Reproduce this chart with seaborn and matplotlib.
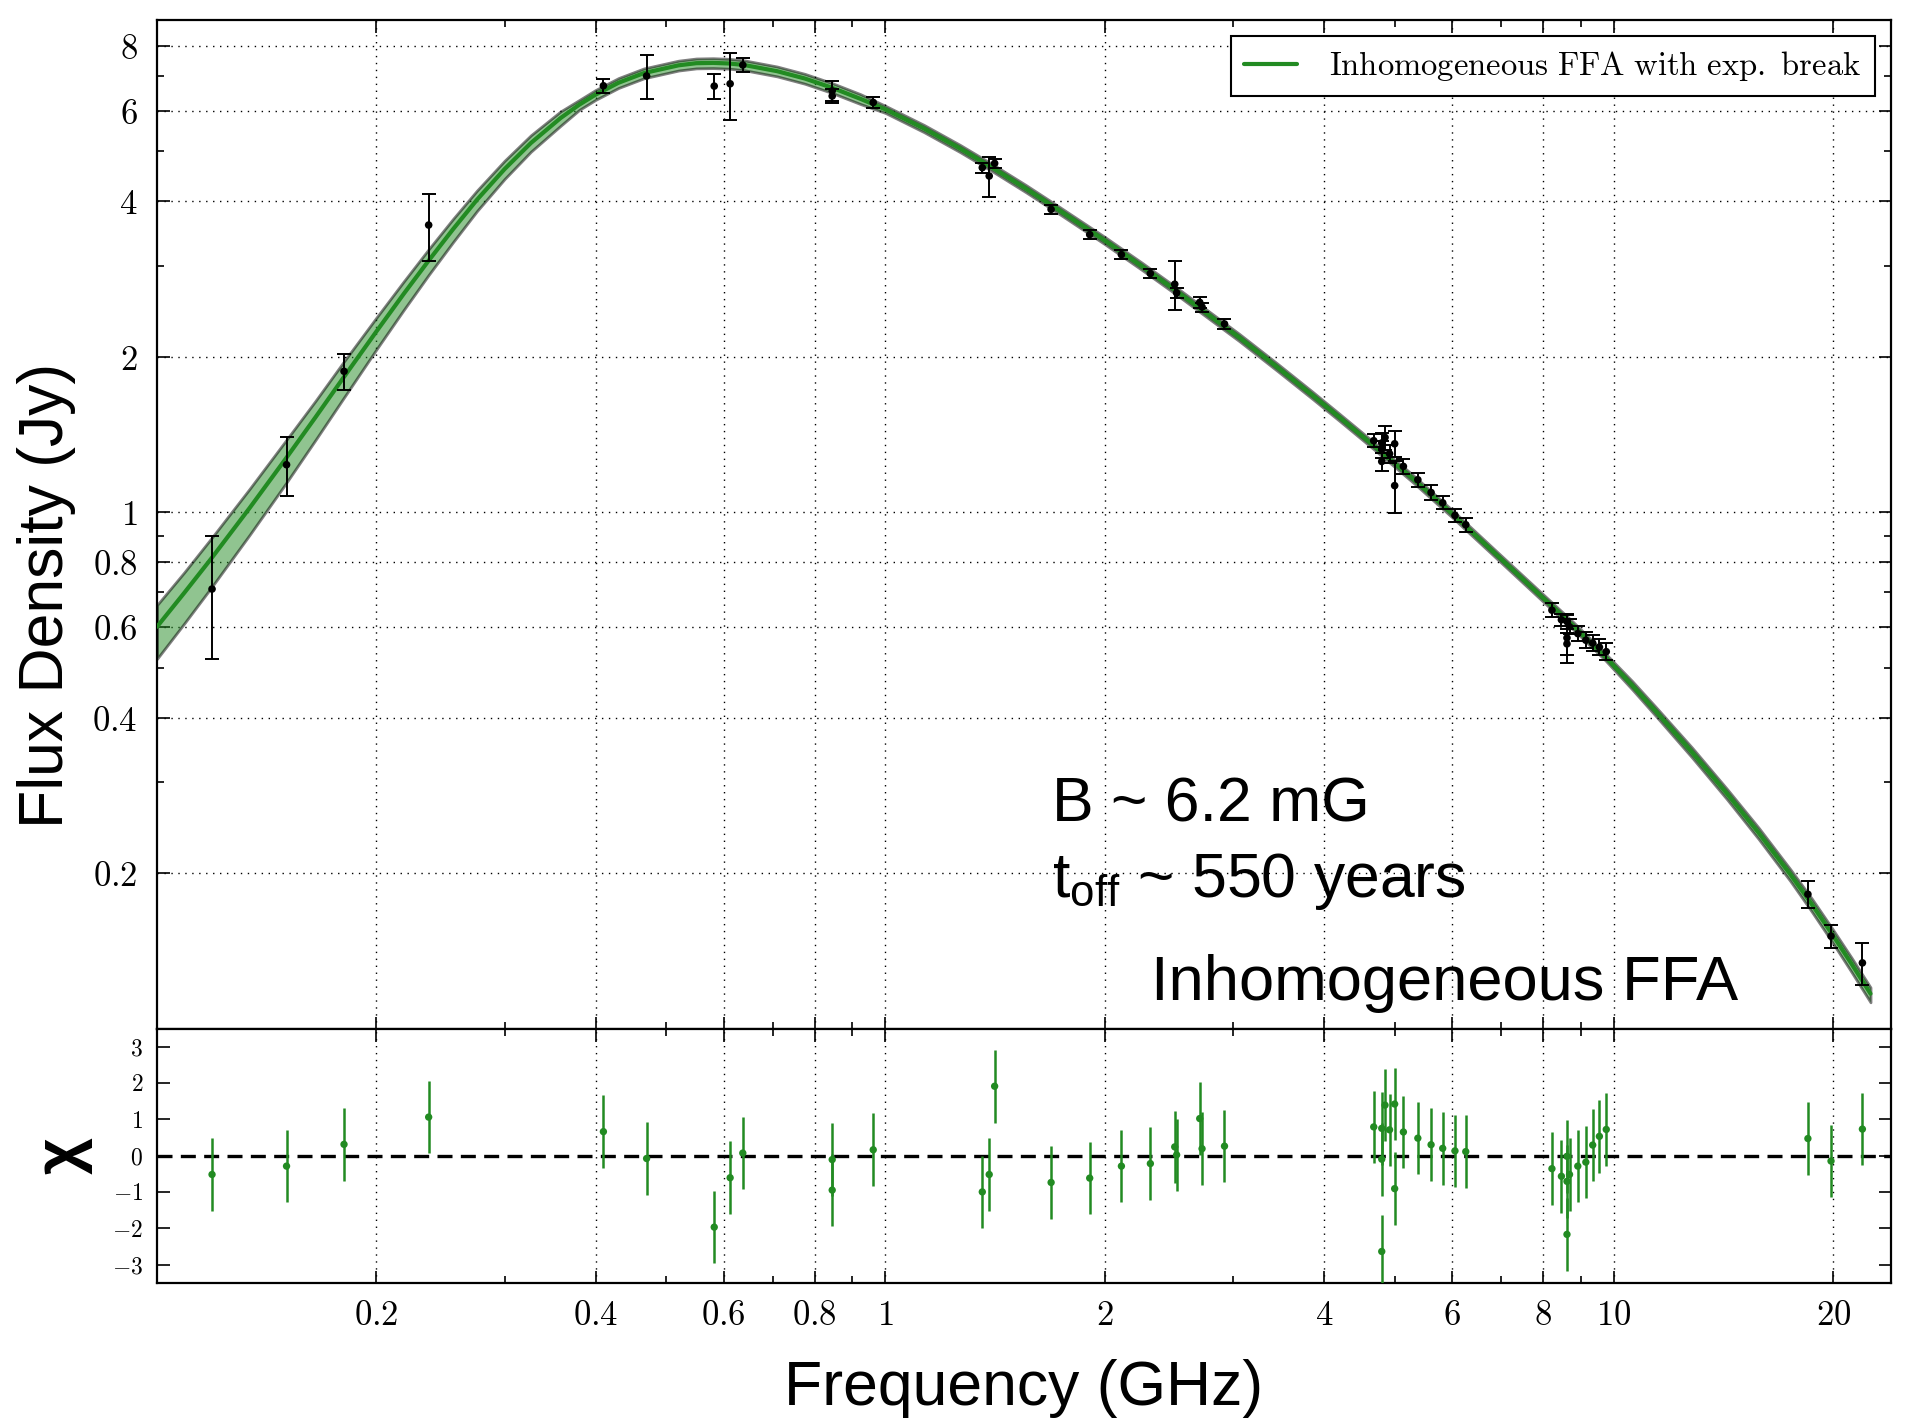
import numpy as np
import matplotlib
matplotlib.use("Agg")
import matplotlib.pyplot as plt
from matplotlib.ticker import FixedLocator, FuncFormatter, NullFormatter
import seaborn as sns

sns.set_style("ticks")
plt.rcParams['font.family'] = ['Liberation Sans', 'DejaVu Sans']
plt.rcParams['mathtext.fontset'] = 'cm'
plt.rcParams['mathtext.rm'] = 'Liberation Sans'
plt.rcParams['mathtext.it'] = 'Liberation Sans:italic'
plt.rcParams['mathtext.bf'] = 'Liberation Sans:bold'
for key in ['text.color', 'axes.labelcolor', 'xtick.color', 'ytick.color', 'axes.edgecolor']:
    plt.rcParams[key] = 'k'

# model curve and its band
curve_freq = [0.100, 0.109, 0.119, 0.134, 0.150, 0.165, 0.180, 0.200, 0.218, 0.236,
              0.255, 0.275, 0.300, 0.326, 0.358, 0.380, 0.400, 0.430, 0.466, 0.520,
              0.550, 0.580, 0.610, 0.640, 0.710, 0.775, 0.845, 0.924, 1.000, 1.130,
              1.266, 1.406, 1.560, 1.736, 2.000, 2.250, 2.508, 2.770, 3.060, 3.450,
              3.850, 4.200, 4.700, 5.300, 6.000, 6.900, 7.970, 8.800, 9.740, 10.60,
              11.43, 12.80, 14.30, 15.80, 17.47, 18.70, 19.90, 21.20, 22.50]
curve_flux = [0.600, 0.698, 0.817, 1.019, 1.266, 1.527, 1.817, 2.238, 2.646, 3.072,
              3.536, 4.031, 4.62, 5.19, 5.80, 6.16, 6.44, 6.79, 7.09, 7.34,
              7.41, 7.42, 7.40, 7.35, 7.15, 6.92, 6.64, 6.32, 6.03, 5.535,
              5.065, 4.637, 4.232, 3.836, 3.36, 2.994, 2.683, 2.419, 2.18, 1.91,
              1.688, 1.527, 1.339, 1.161, 0.993, 0.827, 0.685, 0.602, 0.524, 0.4617,
              0.4108, 0.3428, 0.2849, 0.2393, 0.1987, 0.1738, 0.1528, 0.1333, 0.1168]
band_lo = [0.520, 0.609, 0.718, 0.904, 1.133, 1.380, 1.657, 2.066, 2.463, 2.882,
           3.338, 3.833, 4.421, 4.993, 5.603, 6.018, 6.292, 6.634, 6.927, 7.171,
           7.240, 7.249, 7.230, 7.181, 6.986, 6.761, 6.487, 6.175, 5.934, 5.446,
           4.984, 4.563, 4.164, 3.775, 3.306, 2.946, 2.640, 2.380, 2.145, 1.879,
           1.661, 1.503, 1.318, 1.142, 0.977, 0.814, 0.674, 0.592, 0.516, 0.4534,
           0.4022, 0.3349, 0.2778, 0.2328, 0.1929, 0.1682, 0.1476, 0.1285, 0.1124]
band_hi = [0.661, 0.765, 0.894, 1.110, 1.372, 1.643, 1.948, 2.381, 2.797, 3.232,
           3.702, 4.200, 4.796, 5.372, 5.974, 6.289, 6.575, 6.933, 7.239, 7.494,
           7.566, 7.576, 7.555, 7.504, 7.300, 7.065, 6.779, 6.453, 6.126, 5.624,
           5.146, 4.711, 4.300, 3.897, 3.414, 3.042, 2.726, 2.458, 2.215, 1.941,
           1.715, 1.551, 1.360, 1.180, 1.009, 0.840, 0.696, 0.612, 0.532, 0.4705,
           0.4186, 0.3500, 0.2909, 0.2448, 0.2033, 0.1783, 0.1568, 0.1370, 0.1201]

# measurements
freq = [0.119, 0.1506, 0.1806, 0.236, 0.41, 0.47, 0.582, 0.612, 0.637, 0.845, 0.845, 0.962,
        1.358, 1.388, 1.412, 1.688, 1.907, 2.108, 2.31, 2.495, 2.51, 2.70, 2.72, 2.92,
        4.68, 4.80, 4.80, 4.80, 4.85, 4.92, 5.00, 5.00, 5.14, 5.38, 5.61, 5.82, 6.05, 6.26,
        8.22, 8.47, 8.62, 8.62, 8.62, 8.69, 8.92, 9.15, 9.35, 9.55, 9.76,
        18.46, 19.86, 21.93]
flux = [0.71, 1.236, 1.875, 3.60, 6.70, 7.00, 6.69, 6.76, 7.35, 6.55, 6.40, 6.22,
        4.65, 4.48, 4.74, 3.86, 3.45, 3.155, 2.90, 2.765, 2.66, 2.55, 2.498, 2.316,
        1.376, 1.362, 1.325, 1.254, 1.396, 1.298, 1.126, 1.357, 1.227, 1.156, 1.092, 1.043, 0.986, 0.946,
        0.646, 0.619, 0.614, 0.571, 0.556, 0.600, 0.582, 0.565, 0.558, 0.548, 0.537,
        0.182, 0.151, 0.134]
flux_err = [0.19, 0.16, 0.15, 0.54, 0.20, 0.67, 0.36, 1.0, 0.22, 0.30, 0.19, 0.15,
            0.10, 0.40, 0.10, 0.07, 0.07, 0.06, 0.06, 0.30, 0.06, 0.06, 0.05, 0.05,
            0.04, 0.06, 0.05, 0.05, 0.076, 0.05, 0.13, 0.08, 0.04, 0.035, 0.035, 0.03, 0.03, 0.03,
            0.02, 0.016, 0.02, 0.06, 0.027, 0.02, 0.02, 0.02, 0.02, 0.02, 0.02,
            0.011, 0.008, 0.0125]
resid = [-0.52, -0.29, 0.31, 1.06, 0.66, -0.08, -1.97, -0.61, 0.07, -0.11, -0.95, 0.16,
         -1.0, -0.52, 1.91, -0.74, -0.62, -0.29, -0.22, 0.24, 0.02, 1.02, 0.19, 0.26,
         0.79, 0.75, -0.10, -2.64, 1.39, 0.71, -0.91, 1.42, 0.65, 0.48, 0.30, 0.20, 0.13, 0.11,
         -0.36, -0.57, -0.02, -0.71, -2.17, -0.52, -0.29, -0.18, 0.29, 0.53, 0.72,
         0.47, -0.15, 0.73]

xmajor = [0.2, 0.4, 0.6, 0.8, 1, 2, 4, 6, 8, 10, 20]
xminor = [0.3, 0.5, 0.7, 0.9, 3, 5, 7, 9]
ymajor = [0.2, 0.4, 0.6, 0.8, 1, 2, 4, 6, 8]
yminor = [0.3, 0.5, 0.7, 0.9, 3, 5, 7]

green = '#228B22'
fmt = FuncFormatter(lambda v, p: r'$%g$' % v)

fig = plt.figure(figsize=(19.17, 14.2), dpi=100)
ax = fig.add_axes([0.0819, 0.2757, 0.9045, 0.7105])
axr = fig.add_axes([0.0819, 0.0967, 0.9045, 0.179], sharex=ax)

ax.set_xscale('log')
ax.set_yscale('log')

ax.fill_between(curve_freq, band_lo, band_hi, facecolor=green, edgecolor='k',
                alpha=0.5, linewidth=2, zorder=2)
sns.lineplot(x=curve_freq, y=curve_flux, ax=ax, color=green, linewidth=3, sort=False,
             label=r'$\mathrm{Inhomogeneous\ FFA\ with\ exp.\ break}$', zorder=3)
ax.errorbar(freq, flux, yerr=flux_err, fmt='none', ecolor='k', elinewidth=1.4,
            capsize=5, capthick=1.4, zorder=4)
sns.scatterplot(x=freq, y=flux, ax=ax, color='k', s=30, edgecolor='none', zorder=5)

ax.set_xlim(0.1, 24)
ax.set_ylim(0.1, 9)

# residuals
axr.errorbar(freq, resid, yerr=1, fmt='none', ecolor=green, elinewidth=1.8, zorder=3)
sns.scatterplot(x=freq, y=resid, ax=axr, color=green, s=28, edgecolor='none', zorder=4)
axr.axhline(0, color='k', linestyle=(0, (4.5, 2.5)), linewidth=2.4, zorder=2)
axr.set_ylim(-3.5, 3.5)

for a in (ax, axr):
    a.xaxis.set_major_locator(FixedLocator(xmajor))
    a.xaxis.set_minor_locator(FixedLocator(xminor))
    a.xaxis.set_minor_formatter(NullFormatter())
    a.tick_params(which='both', direction='in', top=True, right=True, width=1.2)
    a.tick_params(which='major', length=9)
    a.tick_params(which='minor', length=5)
    a.grid(True, which='major', axis='x', color='k', linestyle=(0, (1, 4)), linewidth=1)
    for s in a.spines.values():
        s.set_linewidth(1.6)
        s.set_color('k')

ax.yaxis.set_major_locator(FixedLocator(ymajor))
ax.yaxis.set_minor_locator(FixedLocator(yminor))
ax.yaxis.set_major_formatter(fmt)
ax.yaxis.set_minor_formatter(NullFormatter())
ax.grid(True, which='major', axis='y', color='k', linestyle=(0, (1, 4)), linewidth=1)
ax.tick_params(axis='y', labelsize=25, pad=14)
ax.tick_params(axis='x', labelbottom=False)

axr.xaxis.set_major_formatter(fmt)
axr.yaxis.set_major_locator(FixedLocator([-3, -2, -1, 0, 1, 2, 3]))
axr.yaxis.set_major_formatter(fmt)
axr.tick_params(axis='y', labelsize=17, pad=10)
axr.tick_params(axis='x', labelsize=25, pad=12)

ax.set_ylabel('Flux Density (Jy)', fontsize=45)
ax.yaxis.set_label_coords(-0.047, 0.429)
axr.set_xlabel('Frequency (GHz)', fontsize=45, labelpad=19)
axr.set_ylabel('χ', fontsize=46, fontweight='bold')
axr.yaxis.set_label_coords(-0.037, 0.5)
ax.set_xlabel('')

ax.text(0.516, 0.205, 'B ~ 6.2 mG', transform=ax.transAxes, fontsize=45)
ax.text(0.516, 0.130, r'$\mathrm{t}_{\mathrm{off}}$ ~ 550 years', transform=ax.transAxes,
        fontsize=45, math_fontfamily='custom')
ax.text(0.573, 0.028, 'Inhomogeneous FFA', transform=ax.transAxes, fontsize=45.5)

leg = ax.legend(loc='upper right', fontsize=23.5, handlelength=1.6, handletextpad=1.0,
                fancybox=False, framealpha=1)
leg.get_frame().set_edgecolor('k')
leg.get_frame().set_linewidth(1.5)

fig.savefig('out.png', dpi=100)
plt.close()
